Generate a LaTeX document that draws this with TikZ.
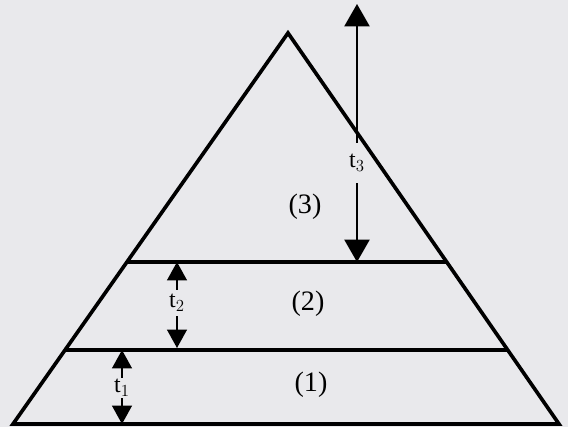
\documentclass[tikz,border=0pt]{standalone}
\usepackage{fontspec}
\setmainfont{Liberation Serif}
\usetikzlibrary{arrows.meta,calc}
\definecolor{scangray}{RGB}{233,233,236}
\begin{document}
\begin{tikzpicture}[x=0.025cm,y=-0.025cm,
  edge/.style={line width=2.6pt,line join=miter},
  big/.style={-{Triangle[length=16pt,width=18pt]},line width=1.3pt},
  small/.style={-{Triangle[length=13pt,width=14pt]},line width=1.3pt},
  lab/.style={font=\fontsize{20}{22}\selectfont},
  tlab/.style={font=\fontsize{17}{19}\selectfont,inner sep=1pt}]
  \fill[scangray] (0,0) rectangle (568,427);
  \useasboundingbox (0,0) rectangle (568,427);
  % pyramid
  \coordinate (apex) at (288,33);
  \coordinate (bl) at (13,424);
  \coordinate (br) at (559,424);
  \coordinate (l2) at ($(apex)!0.586!(bl)$);
  \coordinate (r2) at ($(apex)!0.586!(br)$);
  \coordinate (l1) at ($(apex)!0.811!(bl)$);
  \coordinate (r1) at ($(apex)!0.811!(br)$);
  \draw[edge] (bl) -- (apex) -- (br) -- cycle;
  \draw[edge] (l2) -- (r2);
  \draw[edge] (l1) -- (r1);
  % layer labels
  \node[lab] (n3) at (305,207) {(3)};
  \node[lab] (n2) at (308,304) {(2)};
  \node[lab] (n1) at (311,385) {(1)};
  % thicknesses
  \node[tlab,inner ysep=8pt] (t3) at (357,163) {t$_3$};
  \coordinate (t3top) at (357,4);
  \coordinate (t3bot) at (357,262);
  \draw[big] (t3.north) -- (t3top);
  \draw[big] (t3.south) -- (t3bot);
  \node[tlab,inner ysep=3pt] (t2) at (177,303) {t$_2$};
  \coordinate (t2top) at (177,262);
  \coordinate (t2bot) at (177,348);
  \draw[small] (t2.north) -- (t2top);
  \draw[small] (t2.south) -- (t2bot);
  \node[tlab,inner ysep=1pt] (t1) at (122,388) {t$_1$};
  \coordinate (t1top) at (122,350);
  \coordinate (t1bot) at (122,424);
  \draw[small] (t1.north) -- (t1top);
  \draw[small] (t1.south) -- (t1bot);
\end{tikzpicture}
\end{document}
